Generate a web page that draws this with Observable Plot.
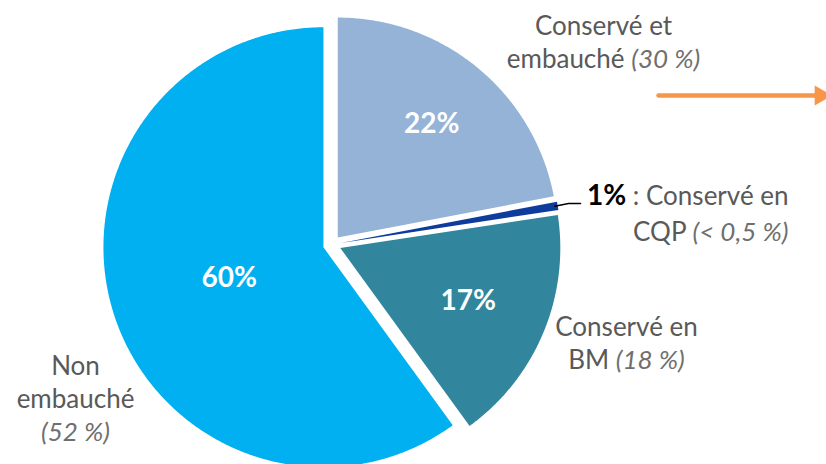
<!DOCTYPE html>
<html><head><meta charset="utf-8">
<script src="https://cdn.jsdelivr.net/npm/d3@7"></script>
<script src="https://cdn.jsdelivr.net/npm/@observablehq/plot@0.6"></script>
<style>body{margin:0;background:#fff} #chart svg{display:block}</style>
</head><body><div id="chart"></div>
<script>
// ---- data ----
const categories = ["Conservé et embauché", "Conservé en CQP", "Conservé en BM", "Non embauché"];
const shares = [22.0, 0.6, 17.4, 60.0];
const shareLabels = ["22%", "1%", "17%", "60%"];
const previousShares = ["(30 %)", "(< 0,5 %)", "(18 %)", "(52 %)"];
const labelLines = [
  ["Conservé et", "embauché (30 %)"],
  ["1% : Conservé en", "CQP (< 0,5 %)"],
  ["Conservé en", "BM (18 %)"],
  ["Non", "embauché", "(52 %)"]
];
const colors = ["#95B3D7", "#0E3C9C", "#31859C", "#00B0F0"];

// ---- layout ----
const W = 826, H = 464;
const CX = 331.5, CY = 244, R = 220, EXPLODE = 9;
const insideFrac = [0.67, null, 0.63, 0.45];
const outsideLayout = [
  {x: 603, y: 40, anchor: "middle"},
  {x: 788, y: 211, anchor: "end"},
  {x: 626, y: 341, anchor: "middle"},
  {x: 75, y: 397, anchor: "middle"}
];

const pie = d3.pie().sort(null).value(d => d)(shares);
const geom = pie.map((p, i) => {
  const mid = (p.startAngle + p.endAngle) / 2;
  return {key: categories[i], i, mid, start: p.startAngle, end: p.endAngle,
    ax: CX + EXPLODE * Math.sin(mid), ay: CY - EXPLODE * Math.cos(mid)};
});
const slicePoints = [];
for (const g of geom) {
  slicePoints.push({key: g.key, x: g.ax, y: g.ay});
  const n = Math.max(2, Math.ceil((g.end - g.start) / (Math.PI / 360)));
  for (let k = 0; k <= n; k++) {
    const a = g.start + (g.end - g.start) * k / n;
    slicePoints.push({key: g.key, x: g.ax + R * Math.sin(a), y: g.ay - R * Math.cos(a)});
  }
}
const valueLabels = geom.filter(g => insideFrac[g.i] != null).map(g => ({
  x: g.ax + insideFrac[g.i] * R * Math.sin(g.mid),
  y: g.ay - insideFrac[g.i] * R * Math.cos(g.mid),
  text: shareLabels[g.i]
}));
const outside = labelLines.map((lines, i) => ({...outsideLayout[i], text: lines.join("\n")}));

// leader line for the small slice
const small = geom[1];
const leaderEnd = {x: 580, y: 203};
const leader = [
  {x: small.ax + (R - 3) * Math.sin(small.mid), y: small.ay - (R - 3) * Math.cos(small.mid)},
  {x: leaderEnd.x - 12, y: leaderEnd.y},
  leaderEnd
];
const arrow = [{x: 658, y: 95}, {x: 816, y: 95}];

const svg = Plot.plot({
  width: W, height: H,
  margin: 0,
  x: {domain: [0, W], range: [0, W], axis: null},
  y: {domain: [0, H], range: [0, H], axis: null},
  color: {domain: categories, range: colors},
  style: {fontFamily: "Lato, sans-serif", background: "#fff"},
  marks: [
    Plot.line(slicePoints, {x: "x", y: "y", z: "key", fill: "key", stroke: null, curve: "linear-closed"}),
    Plot.text(valueLabels, {x: "x", y: "y", text: "text", fill: "#fff", fontWeight: "bold", fontSize: 28}),
    Plot.line(leader, {x: "x", y: "y", stroke: "#000", strokeWidth: 1.5}),
    Plot.text(outside.filter(d => d.anchor === "middle"), {x: "x", y: "y", text: "text", textAnchor: "middle", lineAnchor: "middle", lineHeight: 1.27, fontSize: 26, fill: "#595959"}),
    Plot.text(outside.filter(d => d.anchor === "end"), {x: "x", y: "y", text: "text", textAnchor: "end", lineAnchor: "middle", lineHeight: 1.4, fontSize: 26, fill: "#595959"}),
    Plot.line(arrow, {x: "x", y: "y", stroke: "#F79646", strokeWidth: 4.5}),
    Plot.dot([arrow[1]], {x: "x", y: "y", symbol: "triangle", r: 7.5, rotate: 90, fill: "#F79646", stroke: null, dx: 4})
  ]
});

// rich text: italic previous shares, bold black headline value
d3.select(svg).selectAll("text").each(function () {
  const tspans = this.querySelectorAll("tspan");
  const nodes = tspans.length ? Array.from(tspans) : [this];
  for (const node of nodes) {
    const s = node.textContent;
    let parts = null;
    let m;
    if ((m = s.match(/^(\d+%)( : .*)$/))) {
      parts = [[m[1], {"font-weight": "bold", fill: "#000", "font-size": "28px"}], [m[2], {}]];
    } else if ((m = s.match(/^(.*?)(\(.*\))$/))) {
      parts = [[m[1], {}], [m[2], {"font-style": "italic", fill: "#6f6f6f"}]];
    }
    if (!parts) continue;
    node.textContent = "";
    for (const [str, attrs] of parts) {
      if (!str) continue;
      const t = document.createElementNS("http://www.w3.org/2000/svg", "tspan");
      t.textContent = str;
      for (const k in attrs) t.setAttribute(k, attrs[k]);
      node.appendChild(t);
    }
  }
});
document.getElementById("chart").appendChild(svg);
</script>
</body></html>
